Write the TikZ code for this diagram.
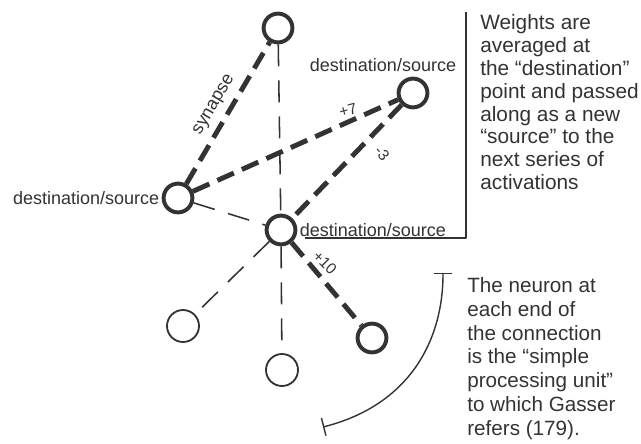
\documentclass[tikz,border=0pt]{standalone}
\usepackage{fontspec}
\setmainfont{Liberation Sans}
\usetikzlibrary{arrows.meta}
\definecolor{ink}{HTML}{333333}

\begin{document}
\begin{tikzpicture}[line join=round, ink, font=\fontsize{12.8}{15}\selectfont,
		unit/.style={circle, draw=ink, line width=2.8pt, minimum size=.72cm, inner sep=0},
		unitthin/.style={circle, draw=ink, line width=1.3pt, minimum size=.8cm, inner sep=0},
		strong/.style={line width=3.5pt, dash pattern=on .45cm off .22cm},
		weak/.style={line width=1.1pt, dash pattern=on .55cm off .35cm},
		wlbl/.style={font=\fontsize{11}{13}\selectfont, inner sep=1pt}]
	\useasboundingbox (0,0) rectangle (16.025,11.075);
	% units
	\node[unit] (top) at (6.95,10.375) {};
	\node[unit] (right) at (10.325,8.75) {};
	\node[unit] (left) at (4.45,6.125) {};
	\node[unit] (mid) at (7.025,5.325) {};
	\node[unitthin] (lowl) at (4.575,2.925) {};
	\node[unitthin] (bot) at (7.05,1.825) {};
	\node[unit] (lowr) at (9.3,2.625) {};
	% connections
	\draw[strong] (left) -- (top) node[midway, above=3.5pt, sloped, inner sep=1pt] (syn) {synapse};
	\draw[strong] (left) -- (right);
	\draw[strong] (right) -- (mid);
	\draw[strong] (mid) -- (lowr);
	\draw[weak] (top) -- (mid);
	\draw[weak] (left) -- (mid);
	\draw[weak] (mid) -- (lowl);
	\draw[weak] (mid) -- (bot);
	\node[wlbl, rotate=15] (w7) at (8.7,8.325) {+7};
	\node[wlbl, rotate=-50] (w3) at (9.55,7.25) {-3};
	\node[wlbl, rotate=-45] (w10) at (8.125,4.5) {+10};
	% labels
	\node (dsr) at (9.575,9.45) {destination/source};
	\node[left, inner sep=1.5pt] (dsl) at (left.west) {destination/source};
	\node[right, inner sep=1.5pt] (dsm) at (mid.east) {destination/source};
	\draw[line width=1pt] (11.65,10.775) -- (11.65,5.125) -- (7.625,5.125);
	\node[anchor=north west, align=left, inner sep=0, font=\fontsize{14.8}{16.3}\selectfont] (note1) at (12.0,10.725)
		{Weights are\\ averaged at\\ the “destination”\\ point and passed\\ along as a new\\ “source” to the\\ next series of\\ activations};
	% processing unit
	\draw[line width=1pt, {Bar[width=13pt]}-{Bar[width=13pt]}] (11.075,4.25) .. controls (11.075,2.575) and (10.25,0.95) .. (8.075,0.4);
	\node[anchor=north west, align=left, inner sep=0, font=\fontsize{14.7}{17}\selectfont] (note2) at (11.675,4.15)
		{The neuron at\\ each end of\\ the connection\\ is the “simple\\ processing unit”\\ to which Gasser\\ refers (179).};
\end{tikzpicture}
\end{document}
